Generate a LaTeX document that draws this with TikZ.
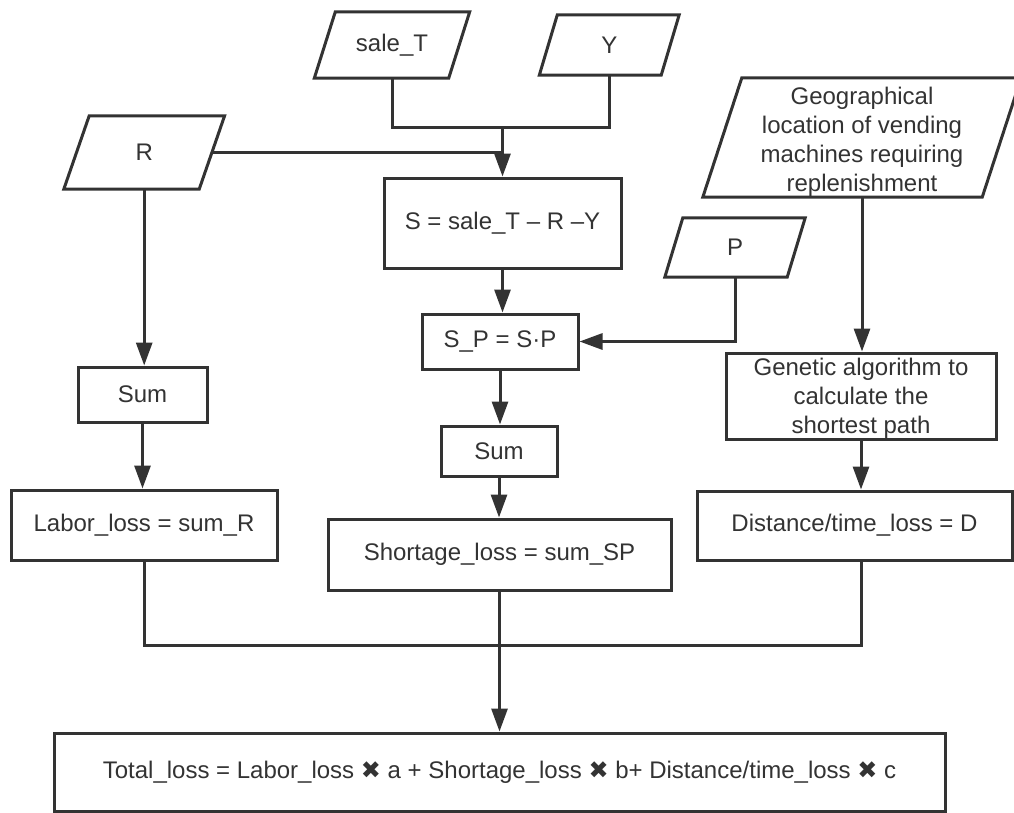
\documentclass[tikz,border=0pt]{standalone}
\usepackage{fontspec}
\setmainfont{Liberation Sans}
\newfontfamily\symfont{DejaVu Sans}
\usetikzlibrary{arrows.meta,calc}
\definecolor{lc}{HTML}{333333}
\newcommand\drawpara[2]{\draw[line] ($(#1.south west)+(-#2,0)$) -- ($(#1.south east)+(-#2,0)$) -- ($(#1.north east)+(#2,0)$) -- ($(#1.north west)+(#2,0)$) -- cycle;}
\begin{document}
\begin{tikzpicture}[x=1pt,y=-1pt,
  every node/.style={font=\fontsize{24}{29}\selectfont, text=lc},
  box/.style={draw=lc, line width=3pt, inner sep=0pt, align=center},
  para/.style={inner sep=0pt, align=center},
  line/.style={draw=lc, line width=3pt},
  arr/.style={line, -{Triangle[length=23pt,width=16pt]}}]
\useasboundingbox[fill=white] (0,0) rectangle (1014,812);

% input parallelograms
\node[para, minimum width=134pt, minimum height=66pt] (sale) at (392,45) {sale\_T};
\node[para, minimum width=121.5pt, minimum height=60pt] (Y) at (609.25,45) {Y};
\node[para, minimum width=135pt, minimum height=73pt] (R) at (144.2,152.5) {R};
\node[para, minimum width=279pt, minimum height=119pt] (geo) at (862,137.5) {\rule{0pt}{25pt}Geographical\\location of vending\\machines requiring\\replenishment};
\node[para, minimum width=122pt, minimum height=59pt] (P) at (735,247.5) {P};
\drawpara{sale}{10.5}
\drawpara{Y}{9}
\drawpara{R}{12.7}
\drawpara{geo}{19.5}
\drawpara{P}{9}

% process boxes
\node[box, minimum width=237pt, minimum height=90pt] (S) at (502.5,223) {S = sale\_T – R –Y};
\node[box, minimum width=156pt, minimum height=55pt] (SP) at (500,341.5) {S\_P = S·P};
\node[box, minimum width=129pt, minimum height=55pt] (sum1) at (142.5,394.5) {Sum};
\node[box, minimum width=116pt, minimum height=50pt] (sum2) at (499,451) {Sum};
\node[box, minimum width=266pt, minimum height=70pt] (labor) at (144,525) {Labor\_loss = sum\_R};
\node[box, minimum width=343pt, minimum height=71pt] (short) at (499.5,554.5) {Shortage\_loss = sum\_SP};
\node[box, minimum width=270pt, minimum height=86pt] (gen) at (861,396) {\rule{0pt}{21pt}Genetic algorithm to\\calculate the\\shortest path};
\node[box, minimum width=315pt, minimum height=69pt] (dist) at (854.5,525.5) {Distance/time\_loss = D};
\node[box, minimum width=891pt, minimum height=78pt] (total) at (499.5,772) {Total\_loss = Labor\_loss {\symfont ✖} a + Shortage\_loss {\symfont ✖} b+ Distance/time\_loss {\symfont ✖} c};

% connectors
\coordinate (jn) at (502.5,127);
\draw[line] (sale.south) |- (jn);
\draw[line] (Y.south) |- (jn);
\draw[line] (R.east) -- (R.east -| jn);
\draw[arr] (jn) -- (jn |- S.north);
\draw[arr] (S.south) -- (S.south |- SP.north);
\draw[arr] (P.south) |- (SP.east);
\draw[arr] (SP.south) -- (SP.south |- sum2.north);
\draw[arr] (sum2.south) -- (sum2.south |- short.north);
\draw[arr] (R.south) -- (R.south |- sum1.north);
\draw[arr] (sum1.south) -- (sum1.south |- labor.north);
\draw[arr] (geo.south) -- (geo.south |- gen.north);
\draw[arr] (gen.south) -- (gen.south |- dist.north);
\coordinate (m) at (499.5,645);
\draw[line] (labor.south) -- (labor.south |- m) -- (m -| gen.south) -- (gen.south |- dist.south);
\draw[arr] (short.south) -- (short.south |- total.north);
\end{tikzpicture}
\end{document}
